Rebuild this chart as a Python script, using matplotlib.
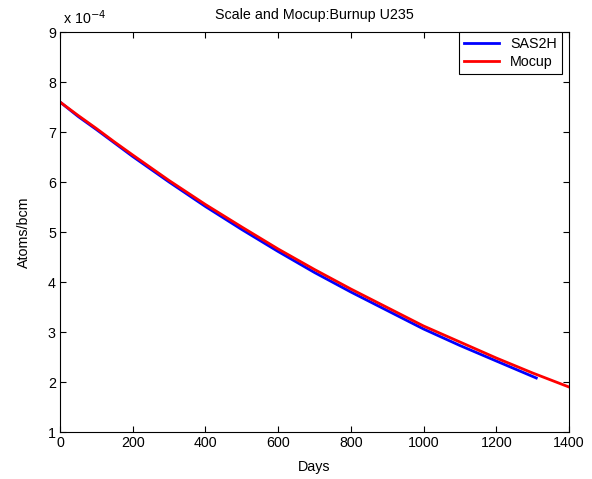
import matplotlib
matplotlib.use('Agg')
import matplotlib.pyplot as plt

plt.rcParams['font.family'] = ['Liberation Sans', 'DejaVu Sans']

# atom density in units of 1e-4 atoms/bcm
scale_exp = -4
days_sas2h = [0, 50, 100, 150, 200, 300, 400, 500, 600, 700, 800, 900, 1000, 1100, 1200, 1310]
u235_sas2h = [7.60, 7.31, 7.05, 6.78, 6.51, 6.00, 5.51, 5.05, 4.61, 4.19, 3.80, 3.43, 3.06, 2.73, 2.42, 2.08]

days_mocup = [0, 50, 100, 150, 200, 300, 400, 500, 600, 700, 800, 900, 1000, 1100, 1200, 1300, 1400]
u235_mocup = [7.60, 7.33, 7.07, 6.80, 6.54, 6.03, 5.55, 5.10, 4.66, 4.25, 3.86, 3.49, 3.12, 2.80, 2.48, 2.18, 1.90]

fs = 10.3

fig = plt.figure(figsize=(5.92, 4.79), dpi=100)
ax = fig.add_axes([60/592, 47/479, 509/592, 400/479])

ax.plot(days_sas2h, u235_sas2h, color='#0000ff', lw=2.0, label='SAS2H')
ax.plot(days_mocup, u235_mocup, color='#ff0000', lw=2.0, label='Mocup')

ax.set_xlim(0, 1400)
ax.set_ylim(1, 9)
ax.set_xticks(range(0, 1401, 200))
ax.set_yticks(range(1, 10))
ax.tick_params(direction='in', top=True, right=True, length=4, labelsize=fs, pad=3)
for s in ax.spines.values():
    s.set_linewidth(0.8)

ax.set_title('Scale and Mocup:Burnup U235', fontsize=fs, pad=9)
ax.set_xlabel('Days', fontsize=fs, labelpad=7)
ax.set_ylabel('Atoms/bcm', fontsize=fs, labelpad=12)
ax.text(0.005, 1.012, r'x 10$^{-4}$', transform=ax.transAxes, fontsize=fs, ha='left', va='bottom')

leg = ax.legend(loc='upper right', bbox_to_anchor=(0.986, 1.0), borderaxespad=0,
                fontsize=fs, fancybox=False, edgecolor='black', framealpha=1,
                handlelength=2.4, handletextpad=0.8, borderpad=0.35, labelspacing=0.25)
leg.get_frame().set_linewidth(0.8)

fig.savefig('out.png', dpi=100)
